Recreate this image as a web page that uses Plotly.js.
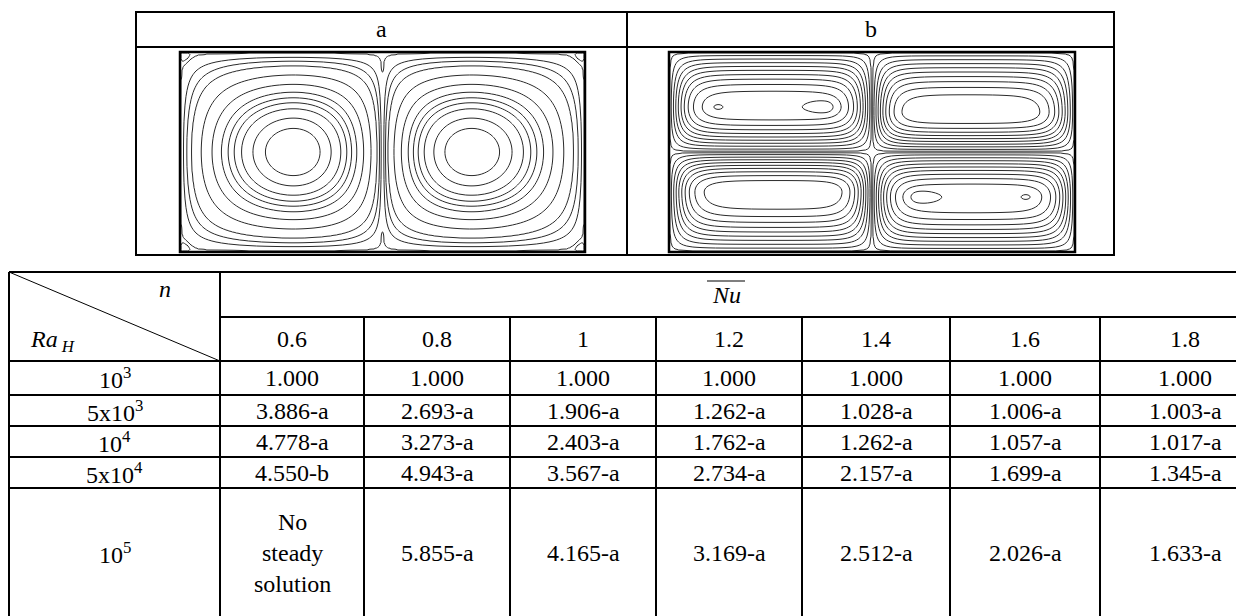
<!DOCTYPE html>
<html><head><meta charset="utf-8">
<script src="https://cdn.plot.ly/plotly-3.0.1.min.js"></script>
<style>html,body{margin:0;padding:0;background:#fff;}#chart{width:1236px;height:616px;}</style>
</head><body><div id="chart"></div>
<script>
// ---------------- data ----------------
const panelLabels = ['a', 'b'];
const nValues = ['0.6', '0.8', '1', '1.2', '1.4', '1.6', '1.8'];
const raLabels = ['10<sup>3</sup>', '5x10<sup>3</sup>', '10<sup>4</sup>', '5x10<sup>4</sup>', '10<sup>5</sup>'];
const nuRa1e3 = ['1.000', '1.000', '1.000', '1.000', '1.000', '1.000', '1.000'];
const nuRa5e3 = ['3.886-a', '2.693-a', '1.906-a', '1.262-a', '1.028-a', '1.006-a', '1.003-a'];
const nuRa1e4 = ['4.778-a', '3.273-a', '2.403-a', '1.762-a', '1.262-a', '1.057-a', '1.017-a'];
const nuRa5e4 = ['4.550-b', '4.943-a', '3.567-a', '2.734-a', '2.157-a', '1.699-a', '1.345-a'];
const nuRa1e5 = ['No<br>steady<br>solution', '5.855-a', '4.165-a', '3.169-a', '2.512-a', '2.026-a', '1.633-a'];
// stream-function contour levels
const streamLevelsA = [0.0015, 0.024, 0.054, 0.10, 0.21, 0.34, 0.455, 0.535, 0.605, 0.686, 0.80, 0.90];
const streamLevelsB = [0.02, 0.1, 0.2, 0.3, 0.4, 0.5, 0.6, 0.7, 0.8, 0.9, 1.01];

// ---------------- geometry (pixels) ----------------
const W = 1236, H = 616;
const px = x => x / W, py = y => 1 - y / H;
const FONT = 'Times New Roman, Liberation Serif, DejaVu Serif, serif';
const FS = 24;

// stream function fields (schematic)
function toIndex(p, L) {
  p = Math.abs(p);
  if (p <= L[0]) return p / L[0];
  for (let i = 0; i < L.length - 1; i++) if (p < L[i + 1]) return i + 1 + (p - L[i]) / (L[i + 1] - L[i]);
  const n = L.length; return n + (p - L[n - 1]) / (L[n - 1] - L[n - 2]);
}
function wlin(t, c) { return t < c ? 0.5 * t / c : 0.5 + 0.5 * (t - c) / (1 - c); }

const AW = 405, AH = 200, BW = 406, BH = 200;
const ax = [], ay = [], az = [];
for (let i = 0; i <= AW; i++) ax.push(i);
for (let j = 0; j <= AH; j++) ay.push(j);
const pA = Math.log(0.5) / Math.log(0.56);
function cornerEddy(dx, dy) {
  return 0.012 * (1 - Math.exp(-dx / 3)) * (1 - Math.exp(-dy / 3)) * Math.exp(-(dx * dx + dy * dy) / (2 * 7 * 7));
}
for (let j = 0; j <= AH; j++) {
  const row = [];
  const v = j / AH;
  const sv = Math.pow(Math.max(0, Math.sin(Math.PI * v)), 1.5);
  for (let i = 0; i <= AW; i++) {
    const half = AW / 2;
    const u = i < half ? i / half : (AW - i) / half;
    const w = Math.pow(Math.max(0, u), pA);
    let psi = Math.max(0, Math.sin(Math.PI * w)) * sv;
    const dx = Math.min(i, AW - i), dy = Math.min(j, AH - j);
    psi -= cornerEddy(dx, dy);
    row.push(toIndex(psi, streamLevelsA));
  }
  az.push(row);
}

const bx = [], by = [], bz = [];
for (let i = 0; i <= BW; i++) bx.push(i);
for (let j = 0; j <= BH; j++) by.push(j);
const kx = 3;
function psiTop(x, y) { // y in [BH/2, BH]
  const cw = BW / 2, ch = BH / 2;
  const left = x < cw;
  const lx = left ? x : x - cw;
  const ly = y - ch;
  const u = lx / cw, v = ly / ch;
  const cu = left ? 0.51 : 0.46, cv = left ? 0.45 : 0.4;
  const G = Math.tanh(kx * Math.max(0, Math.sin(Math.PI * wlin(u, cu)))) / Math.tanh(kx);
  const Hh = Math.max(0, Math.sin(Math.PI * wlin(v, cv)));
  let psi = G * Hh;
  if (left) {
    const y0 = cv * ch;
    const b1 = Math.exp(-(Math.pow(lx - 0.24 * cw, 2) / (2 * 3.2 * 3.2) + Math.pow(ly - y0, 2) / (2 * 1.7 * 1.7)));
    const x2 = 0.77 * cw, sx2 = lx < x2 ? 11 : 7;
    const b2 = Math.exp(-(Math.pow(lx - x2, 2) / (2 * sx2 * sx2) + Math.pow(ly - y0, 2) / (2 * 4.6 * 4.6)));
    psi = psi * (1 + 0.11 * b1 + 0.13 * b2);
  }
  return psi;
}
for (let j = 0; j <= BH; j++) {
  const row = [];
  for (let i = 0; i <= BW; i++) {
    const p = j >= BH / 2 ? psiTop(i, j) : psiTop(BW - i, BH - j);
    row.push(toIndex(p, streamLevelsB));
  }
  bz.push(row);
}

const contourStyle = {
  type: 'contour', showscale: false, hoverinfo: 'skip', autocontour: false,
  line: {color: '#2a2a2a', width: 1, smoothing: 1.2}
};
const traces = [
  Object.assign({}, contourStyle, {x: ax, y: ay, z: az, xaxis: 'x', yaxis: 'y',
    contours: {start: 1, end: streamLevelsA.length, size: 1, coloring: 'none', showlabels: false}}),
  Object.assign({}, contourStyle, {x: bx, y: by, z: bz, xaxis: 'x2', yaxis: 'y2',
    contours: {start: 1, end: streamLevelsB.length, size: 1, coloring: 'none', showlabels: false}})
];

// ---------------- table geometry ----------------
const topT = {l: 136, r: 1114, t: 12, m: 47, b: 255, c: 627};
const frameA = {l: 180, r: 585, t: 52, b: 252};
const frameB = {l: 669, r: 1075, t: 52, b: 252};
const colX = [9, 220, 364, 510, 656, 802, 950, 1100, 1270];
const rowY = [272, 317, 361, 395, 426, 457, 488, 640];

const shapes = [];
const L = (x0, y0, x1, y1, w) => shapes.push({type: 'line', xref: 'paper', yref: 'paper',
  x0: px(x0), y0: py(y0), x1: px(x1), y1: py(y1), line: {color: '#000', width: w || 2}});
// top table
shapes.push({type: 'rect', xref: 'paper', yref: 'paper', x0: px(topT.l), x1: px(topT.r), y0: py(topT.b), y1: py(topT.t),
  line: {color: '#000', width: 2}});
L(topT.l, topT.m, topT.r, topT.m);
L(topT.c, topT.t, topT.c, topT.b);
// plot frames
['x', 'x2'].forEach((xa, k) => shapes.push({type: 'rect', xref: xa + ' domain', yref: (k ? 'y2' : 'y') + ' domain',
  x0: 0, x1: 1, y0: 0, y1: 1, line: {color: '#000', width: 2.5}}));
// bottom table
const right = colX[colX.length - 1], bottom = rowY[rowY.length - 1];
L(colX[0], rowY[0], right, rowY[0]);
L(colX[1], rowY[1], right, rowY[1]);
for (let k = 2; k < rowY.length - 1; k++) L(colX[0], rowY[k], right, rowY[k]);
L(colX[0], rowY[0], colX[0], bottom);
L(colX[1], rowY[0], colX[1], bottom);
for (let k = 2; k < colX.length - 1; k++) L(colX[k], rowY[1], colX[k], bottom);
L(colX[0], rowY[0], colX[1], rowY[2], 1);
// overline of Nu
L(707, 281, 745, 281, 1.2);

const annotations = [];
const T = (text, x, y, opt) => annotations.push(Object.assign({text, x: px(x), y: py(y), xref: 'paper', yref: 'paper',
  showarrow: false, xanchor: 'center', yanchor: 'middle', font: {family: FONT, size: FS, color: '#000'}}, opt || {}));
T(panelLabels[0], (topT.l + topT.c) / 2, (topT.t + topT.m) / 2);
T(panelLabels[1], (topT.c + topT.r) / 2, (topT.t + topT.m) / 2);
T('<i>n</i>', 165, 289);
T('<i>Ra</i><sub><i> H</i></sub>', 28, 341, {xanchor: 'left'});
T('<i>Nu</i>', 726, 295);
const colCenter = k => (colX[k + 1] + colX[k + 2]) / 2;
nValues.forEach((t, k) => T(t, colCenter(k), (rowY[1] + rowY[2]) / 2));
const rows = [nuRa1e3, nuRa5e3, nuRa1e4, nuRa5e4, nuRa1e5];
rows.forEach((vals, r) => {
  const yc = r < 4 ? (rowY[r + 2] + rowY[r + 3]) / 2 : (rowY[6] + 618) / 2;
  T(raLabels[r], (colX[0] + colX[1]) / 2, yc);
  vals.forEach((t, k) => T(t, colCenter(k), yc));
});

const layout = {
  width: W, height: H, margin: {l: 0, r: 0, t: 0, b: 0}, paper_bgcolor: '#fff', plot_bgcolor: '#fff',
  showlegend: false, font: {family: FONT, size: FS, color: '#000'},
  xaxis: {domain: [px(frameA.l), px(frameA.r)], range: [0, AW], visible: false, fixedrange: true},
  yaxis: {domain: [py(frameA.b), py(frameA.t)], range: [0, AH], visible: false, fixedrange: true},
  xaxis2: {domain: [px(frameB.l), px(frameB.r)], range: [0, BW], visible: false, fixedrange: true, anchor: 'y2'},
  yaxis2: {domain: [py(frameB.b), py(frameB.t)], range: [0, BH], visible: false, fixedrange: true, anchor: 'x2'},
  shapes, annotations
};
Plotly.newPlot('chart', traces, layout, {staticPlot: true, displayModeBar: false});
</script></body></html>
